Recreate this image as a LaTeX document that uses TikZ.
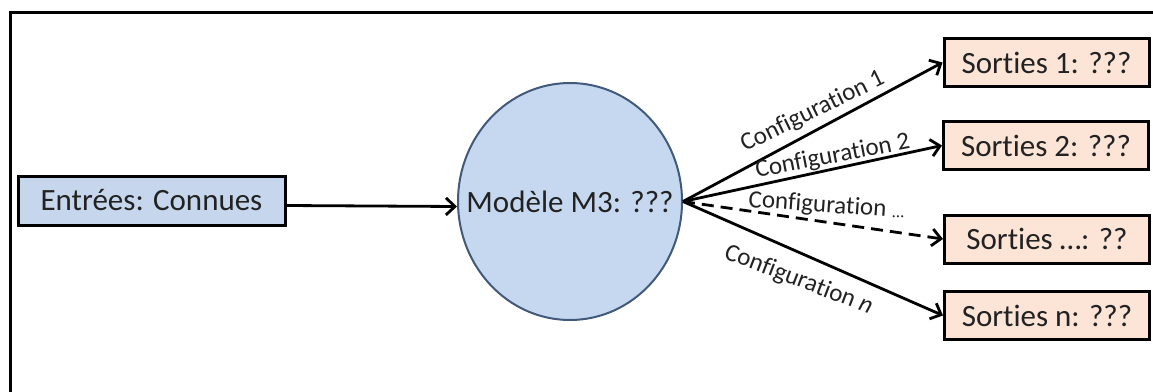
\documentclass[tikz,border=0pt]{standalone}
\usepackage{fontspec}
\setmainfont{Carlito}[Ligatures=NoCommon]
\usetikzlibrary{arrows.meta,shapes.geometric}
\definecolor{inblue}{HTML}{C6D6EC}
\definecolor{elfill}{HTML}{C6D8F0}
\definecolor{eldraw}{HTML}{41597A}
\definecolor{peach}{HTML}{FCE5D7}
\definecolor{txt}{HTML}{222222}
\begin{document}
\begin{tikzpicture}[x=1pt,y=-1pt,
  box/.style={draw=black, line width=3pt, minimum width=205pt, minimum height=48pt, inner sep=0pt, font=\fontsize{31}{36}\selectfont, text=txt},
  arr/.style={line width=2.8pt, -{Straight Barb[length=9pt,width=17pt]}},
  lbl/.style={font=\fontsize{25}{28}\selectfont, text=txt, inner sep=0pt, anchor=base west}]
\useasboundingbox (0,0) rectangle (1153,391);
\fill[white] (0,0) rectangle (1153,391);
\draw[line width=3pt] (10,400) -- (10,12) -- (1160,12);
\node[box, fill=inblue, minimum width=267pt, minimum height=49pt] (in) at (151.5,200.5) {Entrées: Connues};
\node[ellipse, draw=eldraw, line width=2pt, fill=elfill, minimum width=224pt, minimum height=237pt, inner sep=0pt,
  label={[font=\fontsize{31}{36}\selectfont, text=txt]center:{Modèle M3: ???}}] (m) at (570,201.5) {};
\node[box, fill=peach] (s1) at (1046.5,62.5) {Sorties 1: ???};
\node[box, fill=peach] (s2) at (1046,145.5) {Sorties 2: ???};
\node[box, fill=peach] (s3) at (1047,239) {Sorties …: ??};
\node[box, fill=peach] (s4) at (1047,315.5) {Sorties n: ???};
\draw[arr] ([yshift=-5pt]in.east) -- ([yshift=-5pt]m.west);
\draw[arr] (m.east) -- (s1.west);
\draw[arr] (m.east) -- (s2.west);
\draw[arr, dash pattern=on 12pt off 7pt] (m.east) -- (s3.west);
\draw[arr] (m.east) -- (s4.west);
\node[lbl, rotate=26] (c1) at (745,152) {Configuration 1};
\node[lbl, rotate=11] (c2) at (757,178) {Configuration 2};
\node[lbl, rotate=-4] (c3) at (748,207) {Configuration {\fontsize{17}{17}\selectfont ...}};
\node[lbl, rotate=-21] (c4) at (723,258) {Configuration \textit{n}};
\end{tikzpicture}
\end{document}
